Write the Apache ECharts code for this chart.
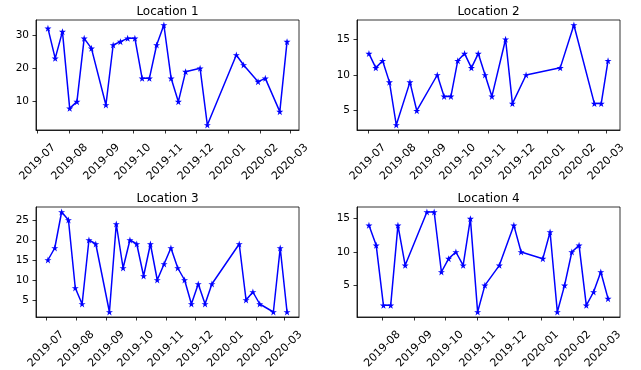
<!DOCTYPE html>
<html>
<head>
<meta charset="utf-8">
<script src="https://cdn.jsdelivr.net/npm/echarts@6/dist/echarts.min.js"></script>
<style>
html,body{margin:0;padding:0;background:#fff;}
#chart{width:641px;height:370px;}
</style>
</head>
<body>
<div id="chart"></div>
<script>
// ---- data ----
const titles = ['Location 1', 'Location 2', 'Location 3', 'Location 4'];

const dates1 = ['2019-07-11','2019-07-18','2019-07-25','2019-08-01','2019-08-08','2019-08-15','2019-08-22',
  '2019-09-05','2019-09-12','2019-09-19','2019-09-26','2019-10-03','2019-10-10','2019-10-17','2019-10-24',
  '2019-10-31','2019-11-07','2019-11-14','2019-11-21','2019-12-05','2019-12-12','2020-01-09','2020-01-16',
  '2020-01-30','2020-02-06','2020-02-20','2020-02-27'];
const values1 = [32,23,31,8,10,29,26,9,27,28,29,29,17,17,27,33,17,10,19,20,3,24,21,16,17,7,28];

const dates2 = ['2019-07-02','2019-07-09','2019-07-16','2019-07-23','2019-07-30','2019-08-13','2019-08-20',
  '2019-09-10','2019-09-17','2019-09-24','2019-10-01','2019-10-08','2019-10-15','2019-10-22','2019-10-29',
  '2019-11-05','2019-11-19','2019-11-26','2019-12-10','2020-01-14','2020-01-28','2020-02-18','2020-02-25',
  '2020-03-03'];
const values2 = [13,11,12,9,3,9,5,10,7,7,12,13,11,13,10,7,15,6,10,11,17,6,6,12];

const dates3 = ['2019-07-03','2019-07-10','2019-07-17','2019-07-24','2019-07-31','2019-08-07','2019-08-14',
  '2019-08-21','2019-09-04','2019-09-11','2019-09-18','2019-09-25','2019-10-02','2019-10-09','2019-10-16',
  '2019-10-23','2019-10-30','2019-11-06','2019-11-13','2019-11-20','2019-11-27','2019-12-04','2019-12-11',
  '2019-12-18','2020-01-15','2020-01-22','2020-01-29','2020-02-05','2020-02-19','2020-02-26','2020-03-04'];
const values3 = [15,18,27,25,8,4,20,19,2,24,13,20,19,11,19,10,14,18,13,10,4,9,4,9,19,5,7,4,2,18,2];

const dates4 = ['2019-07-19','2019-07-26','2019-08-02','2019-08-09','2019-08-16','2019-08-23','2019-09-13',
  '2019-09-20','2019-09-27','2019-10-04','2019-10-11','2019-10-18','2019-10-25','2019-11-01','2019-11-08',
  '2019-11-22','2019-12-06','2019-12-13','2020-01-03','2020-01-10','2020-01-17','2020-01-24','2020-01-31',
  '2020-02-07','2020-02-14','2020-02-21','2020-02-28','2020-03-06'];
const values4 = [14,11,2,2,14,8,16,16,7,9,10,8,15,1,5,8,14,10,9,13,1,5,10,11,2,4,7,3];

const monthTicks = ['2019-07-01','2019-08-01','2019-09-01','2019-10-01','2019-11-01','2019-12-01',
  '2020-01-01','2020-02-01','2020-03-01'];
const yTicks1 = [10,20,30];
const yTicks2 = [5,10,15];
const yTicks3 = [5,10,15,20,25];
const yTicks4 = [5,10,15];

// ---- build ----
function ts(s){ const p = s.split('-').map(Number); return Date.UTC(p[0], p[1]-1, p[2]); }
function fmt(v){ const d = new Date(v); return d.getUTCFullYear() + '-' + String(d.getUTCMonth()+1).padStart(2,'0'); }

const panels = [
  {dates: dates1, values: values1, yt: yTicks1},
  {dates: dates2, values: values2, yt: yTicks2},
  {dates: dates3, values: values3, yt: yTicks3},
  {dates: dates4, values: values4, yt: yTicks4}
];
const grids = [
  {left: 36, top: 20, width: 263, height: 110},
  {left: 357, top: 20, width: 263, height: 110},
  {left: 36, top: 207, width: 263, height: 110},
  {left: 357, top: 207, width: 263, height: 110}
];
const star = 'path://M0,-10 L2.245,-3.09 L9.511,-3.09 L3.633,1.18 L5.878,8.09 L0,3.82 L-5.878,8.09 L-3.633,1.18 L-9.511,-3.09 L-2.245,-3.09 Z';
const font = 'DejaVu Sans';

const option = {
  animation: false,
  backgroundColor: '#fff',
  title: [], grid: [], xAxis: [], yAxis: [], series: []
};

panels.forEach((p, i) => {
  const xs = p.dates.map(ts);
  const x0 = Math.min(...xs), x1 = Math.max(...xs);
  const y0 = Math.min(...p.values), y1 = Math.max(...p.values);
  const xmin = x0 - 0.05*(x1-x0), xmax = x1 + 0.05*(x1-x0);
  const ymin = y0 - 0.05*(y1-y0), ymax = y1 + 0.05*(y1-y0);
  const mt = monthTicks.map(ts).filter(t => t >= xmin && t <= xmax);
  const g = grids[i];
  option.grid.push({left: g.left, top: g.top, width: g.width, height: g.height,
    outerBoundsMode: 'none',
    show: true, borderColor: '#000', borderWidth: 0.8, backgroundColor: 'transparent', containLabel: false});
  option.title.push({text: titles[i], left: g.left + g.width/2, top: g.top - 14, textAlign: 'center', padding: 0,
    textStyle: {fontFamily: font, fontSize: 12, fontWeight: 'normal', color: '#000'}});
  option.xAxis.push({type: 'value', gridIndex: i, min: xmin, max: xmax, scale: true,
    splitLine: {show: false},
    axisLine: {show: true, onZero: false, lineStyle: {color: '#000', width: 0.8}},
    axisTick: {show: true, length: 3.5, customValues: mt, lineStyle: {color: '#000', width: 0.8}},
    axisLabel: {customValues: mt, formatter: fmt, rotate: 45, align: 'center', verticalAlign: 'middle',
      margin: 32, fontFamily: font, fontSize: 11, color: '#000', hideOverlap: false}
  });
  option.yAxis.push({type: 'value', gridIndex: i, min: ymin, max: ymax, scale: true,
    splitLine: {show: false},
    axisLine: {show: true, onZero: false, lineStyle: {color: '#000', width: 0.8}},
    axisTick: {show: true, length: 3.5, customValues: p.yt, lineStyle: {color: '#000', width: 0.8}},
    axisLabel: {customValues: p.yt, margin: 7, fontFamily: font, fontSize: 10.5, color: '#000'}
  });
  option.series.push({type: 'line', xAxisIndex: i, yAxisIndex: i,
    data: xs.map((x, k) => [x, p.values[k]]),
    lineStyle: {color: '#0000ff', width: 1.5},
    itemStyle: {color: '#0000ff'},
    symbol: star, symbolSize: 7, showAllSymbol: true
  });
});

const chart = echarts.init(document.getElementById('chart'), null, {renderer: 'canvas'});
chart.setOption(option);
</script>
</body>
</html>
